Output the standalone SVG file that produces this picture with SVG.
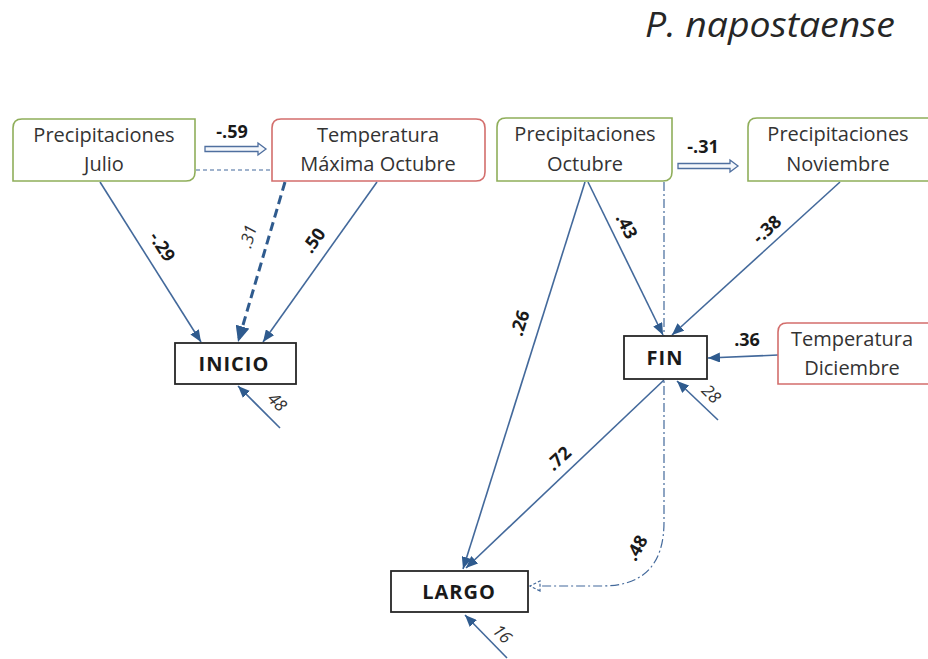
<svg xmlns="http://www.w3.org/2000/svg" width="928" height="659" viewBox="0 0 928 659">
  <style>
    .box-g { fill: #ffffff; stroke: #8fae5a; stroke-width: 1.6; }
    .box-r { fill: #ffffff; stroke: #d36e6c; stroke-width: 1.6; }
    .box-k { fill: #ffffff; stroke: #262626; stroke-width: 1.8; }
    .nt { font-family: "Open Sans", "Noto Sans", sans-serif; font-size: 20px; fill: #333333; text-anchor: middle; }
    .kt { font-family: "Open Sans", "Noto Sans", sans-serif; font-size: 20px; font-weight: 700; fill: #1a1a1a; text-anchor: middle; letter-spacing: 1px; }
    .lab { font-family: "Open Sans", "Noto Sans", sans-serif; font-size: 18px; font-weight: 700; fill: #1a1a1a; text-anchor: middle; }
    .lab-i { font-family: "Open Sans", "Noto Sans", sans-serif; font-size: 17px; font-style: italic; fill: #333333; text-anchor: middle; }
    .ln { fill: none; stroke: #43699b; stroke-width: 1.6; }
    .ln-dash { fill: none; stroke: #2f5b8e; stroke-width: 3; stroke-dasharray: 9 5; }
    .ln-thin-dash { fill: none; stroke: #43699b; stroke-width: 1.2; stroke-dasharray: 4 3; }
    .ln-dashdot { fill: none; stroke: #43699b; stroke-width: 1.2; stroke-dasharray: 9 3 2 3; }
    .block { fill: #f4f7fb; stroke: #4f6f9f; stroke-width: 1.3; }
  </style>
  <defs>
    <marker id="ah" viewBox="0 0 12 10" refX="12" refY="5" markerWidth="12" markerHeight="10" orient="auto" markerUnits="userSpaceOnUse">
      <path d="M0,0 L12,5 L0,10 z" fill="#2f5b8e"/>
    </marker>
    <marker id="ah-big" viewBox="0 0 16 14" refX="16" refY="7" markerWidth="16" markerHeight="14" orient="auto" markerUnits="userSpaceOnUse">
      <path d="M0,0 L16,7 L0,14 z" fill="#2f5b8e"/>
    </marker>
    <marker id="ah-open" viewBox="0 0 12 12" refX="11" refY="6" markerWidth="12" markerHeight="12" orient="auto" markerUnits="userSpaceOnUse">
      <path d="M1,1 L11,6 L1,11 z" fill="#ffffff" stroke="#43699b" stroke-width="1.2" stroke-dasharray="3 2"/>
    </marker>
  </defs>

  <rect width="928" height="659" fill="#ffffff"/>

  <text x="895" y="37" font-family="'Open Sans', 'Noto Sans', sans-serif" font-size="34" font-style="italic" fill="#262626" text-anchor="end" textLength="250" lengthAdjust="spacingAndGlyphs">P. napostaense</text>

  <!-- connectors -->
  <g id="connectors">
    <!-- correlation between July rain and October max temperature -->
    <path class="block" d="M205,146.5 H258 V143 L266,149 L258,155 V151.5 H205 z"/>
    <text class="lab" x="232" y="138">-.59</text>
    <line class="ln-thin-dash" x1="196" y1="170" x2="272" y2="170"/>

    <!-- correlation between October and November rain -->
    <path class="block" d="M678,163.5 H730 V160 L738,166 L730,172 V168.5 H678 z"/>
    <text class="lab" x="703" y="153">-.31</text>

    <!-- paths into INICIO -->
    <line class="ln" x1="100" y1="182" x2="201" y2="342" marker-end="url(#ah)"/>
    <text class="lab" x="0" y="0" transform="translate(157,250) rotate(57)">-.29</text>
    <line class="ln-dash" x1="285" y1="182" x2="238" y2="342" marker-end="url(#ah-big)"/>
    <text class="lab-i" x="0" y="0" transform="translate(254,238) rotate(-74)">.31</text>
    <line class="ln" x1="377" y1="182" x2="263" y2="342" marker-end="url(#ah)"/>
    <text class="lab" x="0" y="0" transform="translate(319,244) rotate(-55)">.50</text>
    <line class="ln" x1="280" y1="428" x2="238" y2="386" marker-end="url(#ah)"/>
    <text class="lab-i" x="0" y="0" transform="translate(273,406) rotate(45)">48</text>

    <!-- paths into FIN -->
    <line class="ln" x1="588" y1="182" x2="663" y2="335" marker-end="url(#ah)"/>
    <text class="lab" x="0" y="0" transform="translate(621,229) rotate(63)">.43</text>
    <line class="ln" x1="840" y1="182" x2="672" y2="335" marker-end="url(#ah)"/>
    <text class="lab" x="0" y="0" transform="translate(771,234) rotate(-42)">-.38</text>
    <line class="ln" x1="778" y1="355" x2="708" y2="358" marker-end="url(#ah)"/>
    <text class="lab" x="747" y="346">.36</text>
    <line class="ln" x1="718" y1="420" x2="677" y2="381" marker-end="url(#ah)"/>
    <text class="lab-i" x="0" y="0" transform="translate(707,398) rotate(45)">28</text>

    <!-- paths into LARGO -->
    <line class="ln" x1="585" y1="182" x2="463" y2="569" marker-end="url(#ah)"/>
    <text class="lab" x="0" y="0" transform="translate(526,325) rotate(-72)">.26</text>
    <line class="ln" x1="664" y1="380" x2="466" y2="568" marker-end="url(#ah)"/>
    <text class="lab" x="0" y="0" transform="translate(563,463) rotate(-43)">.72</text>
    <path class="ln-dashdot" d="M664,182 V522 Q664,586 602,586 H530" marker-end="url(#ah-open)"/>
    <text class="lab" x="0" y="0" transform="translate(642,551) rotate(-60)">.48</text>
    <line class="ln" x1="507" y1="658" x2="465" y2="615" marker-end="url(#ah)"/>
    <text class="lab-i" x="0" y="0" transform="translate(498,638) rotate(45)">16</text>
  </g>

  <!-- nodes -->
  <g id="precip-julio">
    <path class="box-g" d="M22,119 H195 V172 Q195,181 186,181 H13 V128 Q13,119 22,119 z"/>
    <text class="nt" x="104" y="142">Precipitaciones</text>
    <text class="nt" x="104" y="171">Julio</text>
  </g>
  <g id="temp-max-octubre">
    <path class="box-r" d="M281,119 H476 Q485,119 485,128 V172 Q485,181 476,181 H272 V128 Q272,119 281,119 z"/>
    <text class="nt" x="378" y="142">Temperatura</text>
    <text class="nt" x="378" y="171">Máxima Octubre</text>
  </g>
  <g id="precip-octubre">
    <path class="box-g" d="M506,118 H672 V172 Q672,181 663,181 H497 V127 Q497,118 506,118 z"/>
    <text class="nt" x="585" y="141">Precipitaciones</text>
    <text class="nt" x="585" y="171">Octubre</text>
  </g>
  <g id="precip-noviembre">
    <path class="box-g" d="M757,118 H930 V181 H748 V127 Q748,118 757,118 z"/>
    <text class="nt" x="838" y="141">Precipitaciones</text>
    <text class="nt" x="838" y="171">Noviembre</text>
  </g>
  <g id="temp-diciembre">
    <path class="box-r" d="M787,323 H930 V384 H778 V332 Q778,323 787,323 z"/>
    <text class="nt" x="852" y="346">Temperatura</text>
    <text class="nt" x="852" y="375">Diciembre</text>
  </g>
  <g id="inicio">
    <rect class="box-k" x="175" y="343" width="121" height="41"/>
    <text class="kt" x="234" y="371">INICIO</text>
  </g>
  <g id="fin">
    <rect class="box-k" x="624" y="336" width="83" height="43"/>
    <text class="kt" x="665" y="365">FIN</text>
  </g>
  <g id="largo">
    <rect class="box-k" x="391" y="571" width="137" height="41"/>
    <text class="kt" x="459" y="599">LARGO</text>
  </g>
</svg>
